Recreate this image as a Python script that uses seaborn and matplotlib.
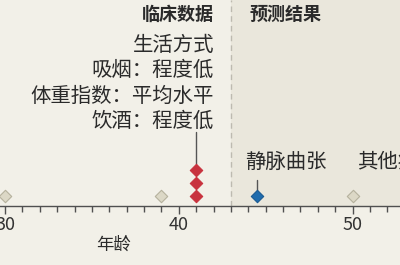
import matplotlib
matplotlib.use("Agg")
import matplotlib.pyplot as plt
import seaborn as sns
import pandas as pd

# ---- data ----
ages = [30, 39, 41, 41, 41, 44.5, 50]
kinds = ["其他", "其他", "临床", "临床", "临床", "预测", "其他"]
lifestyle_title = "生活方式"
lifestyle_lines = ["吸烟：程度低", "体重指数：平均水平", "饮酒：程度低"]
pred_labels = ["静脉曲张", "其他疾病"]
pred_label_ages = [43.8, 50.25]
section_titles = ["临床数据", "预测结果"]
boundary_age = 43
tick_major = [30, 40, 50]
xlabel = "年龄"

sns.set_theme(style="white")
plt.rcParams["font.family"] = ["Noto Sans CJK SC", "DejaVu Sans"]

BG = "#f2f0e8"
SHADE = "#eae7dc"
TXT = "#2a2a2a"
palette = {"其他": "#dcd8c6", "临床": "#c8323e", "预测": "#1f6cae"}
edges = {"其他": "#b5b19d", "临床": "#c8323e", "预测": "#1a5a92"}

# stacking positions for repeated ages
stack = []
seen = {}
for a in ages:
    stack.append(seen.get(a, 0))
    seen[a] = seen.get(a, 0) + 1
df = pd.DataFrame({"age": ages, "kind": kinds, "stack": stack})
df["y"] = 10 + 13 * df["stack"]

fig = plt.figure(figsize=(4, 2.65), dpi=100)
fig.patch.set_facecolor(BG)
ax = fig.add_axes([0, 59 / 265, 1, 206 / 265])
ax.set_facecolor(BG)
ax.set_xlim(29.712, 52.733)
ax.set_ylim(0, 206)

ax.axvspan(boundary_age, 60, color=SHADE, zorder=0, lw=0)
ax.axvline(boundary_age, color="#bdbab0", ls=(0, (4, 3)), lw=1, zorder=1)

# stems
for kind, top_off in [("临床", 32), ("预测", 10)]:
    sub = df[df["kind"] == kind]
    x = sub["age"].iloc[0]
    ymax = sub["y"].max()
    ax.plot([x, x], [ymax + 6, ymax + 6 + top_off], color="#555555", lw=1, zorder=2)

for kind, sub in df.groupby("kind"):
    sns.scatterplot(data=sub, x="age", y="y", marker="D", s=40,
                    color=palette[kind], edgecolor=edges[kind],
                    linewidth=0.8, ax=ax, zorder=3, legend=False)

# texts
ax.text(42.03, 192, section_titles[0], ha="right", va="center",
        fontsize=13, fontweight="bold", color=TXT)
ax.text(44.1, 192, section_titles[1], ha="left", va="center",
        fontsize=13, fontweight="bold", color=TXT)
for i, t in enumerate([lifestyle_title] + lifestyle_lines):
    ax.text(42.03, 161 - 25.5 * i, t, ha="right", va="center",
            fontsize=14.7, color=TXT)
for t, a in zip(pred_labels, pred_label_ages):
    ax.text(a, 44, t, ha="left", va="center", fontsize=14.7, color=TXT)

# axes styling
for s in ["top", "left", "right"]:
    ax.spines[s].set_visible(False)
ax.spines["bottom"].set_color("#505050")
ax.spines["bottom"].set_linewidth(1)
ax.set_yticks([])
ax.set_xticks(tick_major)
ax.set_xticklabels([str(t) for t in tick_major], fontsize=13, color="#333333")
ax.set_xticks(list(range(30, 53)), minor=True)
ax.tick_params(axis="x", which="major", bottom=True, length=6, width=1,
               color="#505050", pad=1)
ax.tick_params(axis="x", which="minor", bottom=True, length=4, width=1,
               color="#505050")
ax.set_xlabel(xlabel, fontsize=12.5, color=TXT)
ax.xaxis.set_label_coords(114 / 400, -30 / 206)
ax.set_ylabel("")

fig.savefig("out.png", dpi=100, facecolor=BG)
